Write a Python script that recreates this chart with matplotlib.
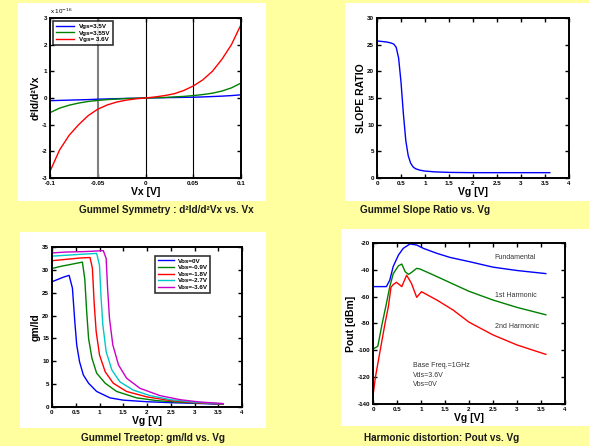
import matplotlib
matplotlib.use("Agg")
import matplotlib.pyplot as plt
from matplotlib.patches import Rectangle

plt.rcParams['font.family'] = ['Liberation Sans', 'DejaVu Sans']
plt.rcParams['axes.unicode_minus'] = False

# ---- panel 1: Gummel symmetry (units of 1e-16) ----
vx = [-0.1, -0.09, -0.08, -0.07, -0.06, -0.05, -0.04, -0.03, -0.02, -0.01, 0.0,
      0.01, 0.02, 0.03, 0.04, 0.05, 0.06, 0.07, 0.08, 0.09, 0.1]
d2_350 = [-0.10, -0.09, -0.08, -0.07, -0.06, -0.045, -0.035, -0.025, -0.015, -0.008, 0.0,
          0.006, 0.012, 0.018, 0.024, 0.03, 0.04, 0.055, 0.07, 0.09, 0.12]
d2_355 = [-0.55, -0.38, -0.27, -0.19, -0.13, -0.09, -0.06, -0.04, -0.02, -0.01, 0.0,
          0.01, 0.02, 0.04, 0.06, 0.09, 0.13, 0.18, 0.26, 0.38, 0.56]
d2_360 = [-2.75, -1.95, -1.40, -1.00, -0.66, -0.42, -0.26, -0.15, -0.08, -0.03, 0.0,
          0.04, 0.09, 0.16, 0.28, 0.45, 0.68, 1.00, 1.45, 2.00, 2.75]
vgs_labels = ["Vgs=3.5V", "Vgs=3.55V", "Vgs= 3.6V"]

# ---- panel 2: slope ratio ----
vg_sr = [0, 0.1, 0.2, 0.3, 0.35, 0.4, 0.45, 0.5, 0.55, 0.6, 0.65, 0.7, 0.75, 0.8,
         0.9, 1.0, 1.2, 1.5, 2.0, 2.5, 3.0, 3.6]
slope_ratio = [25.7, 25.6, 25.5, 25.3, 25.1, 24.5, 22.5, 18.0, 12.0, 7.0, 4.2, 2.8, 2.1, 1.75,
               1.45, 1.3, 1.15, 1.05, 1.0, 1.0, 1.0, 1.0]

# ---- panel 3: gm/Id treetop ----
vbs_labels = ["Vbs=0V", "Vbs=-0.9V", "Vbs=-1.8V", "Vbs=-2.7V", "Vbs=-3.6V"]
vg_b0 = [0, 0.12, 0.24, 0.36, 0.43, 0.48, 0.52, 0.58, 0.66, 0.77, 0.94, 1.22, 1.5, 2.0, 2.5, 3.0, 3.6]
gm_b0 = [27.4, 27.9, 28.4, 28.8, 26.0, 18.7, 13.6, 9.9, 7.0, 5.2, 3.4, 2.0, 1.5, 1.15, 0.95, 0.8, 0.6]
vg_b1 = [0, 0.2, 0.4, 0.64, 0.69, 0.73, 0.77, 0.84, 0.94, 1.12, 1.36, 1.78, 2.2, 2.6, 3.0, 3.6]
gm_b1 = [30.3, 30.8, 31.2, 31.7, 28.0, 20.9, 15.0, 10.7, 7.4, 5.2, 3.4, 2.0, 1.4, 1.1, 0.9, 0.65]
vg_b2 = [0, 0.3, 0.6, 0.8, 0.85, 0.89, 0.93, 1.0, 1.12, 1.29, 1.57, 2.0, 2.5, 3.0, 3.6]
gm_b2 = [32.0, 32.3, 32.6, 32.7, 30.4, 22.3, 16.5, 11.4, 7.7, 5.2, 3.4, 2.2, 1.4, 0.95, 0.65]
vg_b3 = [0, 0.3, 0.6, 0.94, 1.0, 1.03, 1.07, 1.14, 1.26, 1.43, 1.71, 2.06, 2.5, 3.0, 3.6]
gm_b3 = [33.0, 33.2, 33.4, 33.6, 31.0, 24.5, 18.0, 12.1, 8.1, 5.5, 3.7, 2.5, 1.6, 1.05, 0.7]
vg_b4 = [0, 0.3, 0.7, 1.08, 1.14, 1.17, 1.21, 1.28, 1.4, 1.57, 1.85, 2.27, 2.7, 3.1, 3.6]
gm_b4 = [33.7, 33.9, 34.0, 34.2, 32.5, 26.0, 19.4, 13.6, 9.2, 6.3, 4.1, 2.5, 1.6, 1.1, 0.75]

# ---- panel 4: harmonic distortion ----
vg_fund = [0, 0.28, 0.35, 0.42, 0.53, 0.63, 0.77, 0.91, 1.05, 1.33, 1.6, 2.02, 2.5, 3.0, 3.6]
p_fund = [-52.5, -52.5, -47.6, -37.6, -29, -24, -20.7, -21.5, -24, -27.7, -30.7, -34, -38, -40.5, -42.8]
vg_1st = [0, 0.1, 0.18, 0.28, 0.35, 0.42, 0.53, 0.6, 0.67, 0.74, 0.8, 0.91, 0.98, 1.33, 1.67,
          2.0, 2.5, 3.0, 3.6]
p_1st = [-99, -97, -82, -65, -52.5, -43, -37, -35.7, -41.4, -43.4, -42, -38.9, -39.4, -45, -50.6,
         -56, -62.5, -68, -73.5]
vg_2nd = [0, 0.05, 0.1, 0.15, 0.25, 0.32, 0.375, 0.42, 0.49, 0.6, 0.7, 0.8, 0.91, 1.01, 1.33,
          1.67, 2.0, 2.5, 3.0, 3.6]
p_2nd = [-134, -120, -110, -100, -80, -67.5, -53, -51, -49.3, -52.5, -44, -50, -60.5, -56.3, -62.5,
         -70, -79, -88.5, -96, -103]

blue, green, red, cyan, magenta = "#0000FF", "#008000", "#FF0000", "#00C8C8", "#C800C8"

W, H = 589, 446
fig = plt.figure(figsize=(W / 100, H / 100), dpi=100, facecolor="#FFFFA0")


def box(x0, y0, x1, y1):
    # pixel box (top-left origin) -> figure fraction
    return [x0 / W, 1 - y1 / H, (x1 - x0) / W, (y1 - y0) / H]


# white backing panels
for b in [(18, 3, 266, 201), (345, 3, 589, 201), (20, 232, 266, 428), (341, 229, 589, 426)]:
    l, bt, w, h = box(*b)
    fig.patches.append(Rectangle((l, bt), w, h, transform=fig.transFigure,
                                 facecolor="white", edgecolor="none", zorder=-5))


def style(ax, xlabel, ylabel):
    ax.tick_params(direction="in", top=True, right=True, length=3, width=1,
                   labelsize=4.5, pad=2)
    for lab in ax.get_xticklabels() + ax.get_yticklabels():
        lab.set_fontweight("bold")
    for s in ax.spines.values():
        s.set_linewidth(1.4)
    ax.set_xlabel(xlabel, fontsize=7.5, fontweight="bold", labelpad=1)
    ax.set_ylabel(ylabel, fontsize=7.5, fontweight="bold", labelpad=1)


vg_ticks = [0, 0.5, 1, 1.5, 2, 2.5, 3, 3.5, 4]
vg_ticklabels = ["0", "0.5", "1", "1.5", "2", "2.5", "3", "3.5", "4"]

# panel 1
ax1 = fig.add_axes(box(50, 18, 241, 178))
ax1.axvline(-0.05, color="#808080", lw=1.5)
ax1.axvline(0, color="black", lw=0.8)
ax1.axvline(0.05, color="black", lw=0.8)
ax1.plot(vx, d2_350, color=blue, lw=1, label=vgs_labels[0])
ax1.plot(vx, d2_355, color=green, lw=1, label=vgs_labels[1])
ax1.plot(vx, d2_360, color=red, lw=1, label=vgs_labels[2])
ax1.set_xlim(-0.1, 0.1)
ax1.set_ylim(-3, 3)
ax1.set_xticks([-0.1, -0.05, 0, 0.05, 0.1])
ax1.set_xticklabels(["-0.1", "-0.05", "0", "0.05", "0.1"])
ax1.set_yticks(range(-3, 4))
style(ax1, "Vx [V]", "d²Id/d²Vx")
ax1.text(0.0, 1.01, r"x 10$^{-16}$", transform=ax1.transAxes, fontsize=4.5, va="bottom")
leg = ax1.legend(loc="upper left", fontsize=4.5, frameon=True, fancybox=False,
                 edgecolor="black", handlelength=3, borderpad=0.4, labelspacing=0.2)
leg.get_frame().set_linewidth(1.2)
for t in leg.get_texts():
    t.set_fontweight("bold")

# panel 2
ax2 = fig.add_axes(box(377, 18, 569, 178))
ax2.plot(vg_sr, slope_ratio, color=blue, lw=1)
ax2.set_xlim(0, 4)
ax2.set_ylim(0, 30)
ax2.set_xticks(vg_ticks)
ax2.set_xticklabels(vg_ticklabels)
ax2.set_yticks(range(0, 31, 5))
style(ax2, "Vg [V]", "SLOPE RATIO")

# panel 3
ax3 = fig.add_axes(box(52, 247, 242, 407))
for xs, ys, c, lab in [(vg_b0, gm_b0, blue, vbs_labels[0]), (vg_b1, gm_b1, green, vbs_labels[1]),
                       (vg_b2, gm_b2, red, vbs_labels[2]), (vg_b3, gm_b3, cyan, vbs_labels[3]),
                       (vg_b4, gm_b4, magenta, vbs_labels[4])]:
    ax3.plot(xs, ys, color=c, lw=1, label=lab)
ax3.set_xlim(0, 4)
ax3.set_ylim(0, 35)
ax3.set_xticks(vg_ticks)
ax3.set_xticklabels(vg_ticklabels)
ax3.set_yticks(range(0, 36, 5))
style(ax3, "Vg [V]", "gm/Id")
leg3 = ax3.legend(loc="upper right", bbox_to_anchor=(0.85, 0.965), fontsize=4.5, frameon=True,
                  fancybox=False, edgecolor="black", handlelength=2.6, borderpad=0.4,
                  labelspacing=0.2, handletextpad=0.6)
leg3.get_frame().set_linewidth(1.2)
for t in leg3.get_texts():
    t.set_fontweight("bold")

# panel 4
ax4 = fig.add_axes(box(373, 243, 565, 404))
ax4.plot(vg_fund, p_fund, color=blue, lw=1)
ax4.plot(vg_1st, p_1st, color=green, lw=1)
ax4.plot(vg_2nd, p_2nd, color=red, lw=1)
ax4.set_xlim(0, 4)
ax4.set_ylim(-140, -20)
ax4.set_xticks(vg_ticks)
ax4.set_xticklabels(vg_ticklabels)
ax4.set_yticks(range(-140, -19, 20))
style(ax4, "Vg [V]", "Pout [dBm]")
ax4.text(2.53, -31, "Fundamental", fontsize=5, color="#333333", va="center")
ax4.text(2.55, -59, "1st Harmonic", fontsize=5, color="#333333", va="center")
ax4.text(2.55, -82, "2nd Harmonic", fontsize=5, color="#333333", va="center")
ax4.text(0.83, -109, "Base Freq.=1GHz\nVds=3.6V\nVbs=0V", fontsize=5, color="#333333",
         va="top", linespacing=1.5)

# captions under each panel
cap = dict(fontsize=7.2, fontweight="bold", ha="center", va="center", color="#1a1a1a")
fig.text(166 / W, 1 - 210 / H, "Gummel Symmetry : d²Id/d²Vx vs. Vx", **cap)
fig.text(425 / W, 1 - 210 / H, "Gummel Slope Ratio vs. Vg", **cap)
fig.text(153 / W, 1 - 438 / H, "Gummel Treetop: gm/Id vs. Vg", **cap)
fig.text(442 / W, 1 - 438 / H, "Harmonic distortion: Pout vs. Vg", **cap)

fig.savefig("out.png", dpi=100, facecolor=fig.get_facecolor())
